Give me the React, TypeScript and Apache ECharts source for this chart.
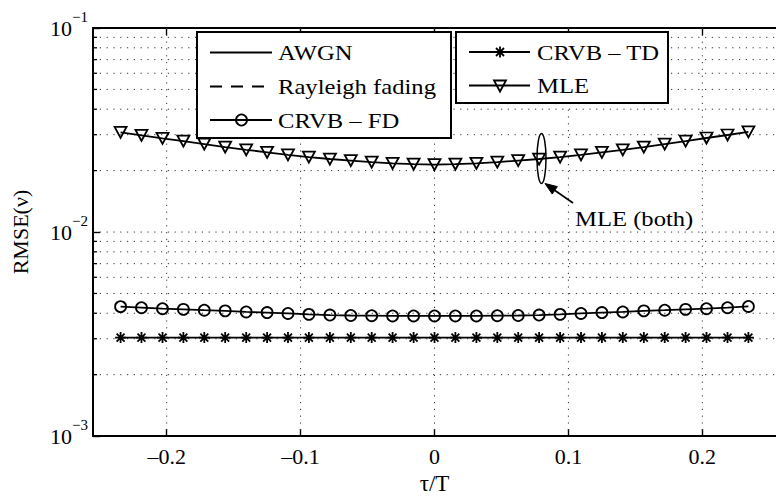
import React, { useEffect, useRef } from 'react';
import * as echarts from 'echarts';

// tau/T sample points (k/64, k = -15..15)
const tauValues = [
  -0.2344, -0.2188, -0.2031, -0.1875, -0.1719, -0.1563, -0.1406, -0.125, -0.1094, -0.0938,
  -0.0781, -0.0625, -0.0469, -0.0313, -0.0156, 0, 0.0156, 0.0313, 0.0469, 0.0625,
  0.0781, 0.0938, 0.1094, 0.125, 0.1406, 0.1563, 0.1719, 0.1875, 0.2031, 0.2188, 0.2344,
];
const mleValues = [
  0.0308, 0.0298, 0.0288, 0.0279, 0.027, 0.0261, 0.0253, 0.0246, 0.0239, 0.0233,
  0.0228, 0.0224, 0.022, 0.0217, 0.0215, 0.0214, 0.0215, 0.0217, 0.022, 0.0224,
  0.0228, 0.0233, 0.0239, 0.0246, 0.0253, 0.0261, 0.027, 0.0279, 0.0289, 0.0299, 0.031,
];
const crvbFdValues = [
  0.00431, 0.00426, 0.00421, 0.00418, 0.00414, 0.00411, 0.00406, 0.00403, 0.00399, 0.00395,
  0.00392, 0.0039, 0.00389, 0.00388, 0.00388, 0.00388, 0.00388, 0.00388, 0.00389, 0.0039,
  0.00392, 0.00395, 0.00399, 0.00403, 0.00406, 0.00411, 0.00414, 0.00418, 0.00421, 0.00426, 0.00432,
];
const crvbTdValues = [
  0.00304, 0.00304, 0.00304, 0.00304, 0.00304, 0.00304, 0.00304, 0.00304, 0.00304, 0.00304,
  0.00304, 0.00304, 0.00304, 0.00304, 0.00304, 0.00304, 0.00304, 0.00304, 0.00304, 0.00304,
  0.00304, 0.00304, 0.00304, 0.00304, 0.00304, 0.00304, 0.00304, 0.00304, 0.00304, 0.00304, 0.00304,
];
const xTickValues = [-0.2, -0.1, 0, 0.1, 0.2];
const yMajorGrid = [0.01];
const yMinorValues = [
  0.002, 0.003, 0.004, 0.005, 0.006, 0.007, 0.008, 0.009,
  0.02, 0.03, 0.04, 0.05, 0.06, 0.07, 0.08, 0.09,
];
const legendLeftLabels = ['AWGN', 'Rayleigh fading', 'CRVB \u2013 FD'];
const legendRightLabels = ['CRVB \u2013 TD', 'MLE'];
const annotationLabel = 'MLE (both)';
const xAxisTitle = '\u03c4/T';
const yAxisTitle = 'RMSE(\u03bd)';

const FONT = 'Liberation Serif, Times New Roman, Times, serif';
const STAR = 'path://M0,-5L0,5M-5,0L5,0M-3.6,-3.6L3.6,3.6M-3.6,3.6L3.6,-3.6';
const SX = 1.12;
const LW = 1.8;

function pair(xs: number[], ys: number[]) {
  return xs.map((x, i) => [x, ys[i]]);
}

function lineSeries(name: string, data: number[], symbol: string, size: any, rotate = 0) {
  return {
    name,
    type: 'line',
    data: pair(tauValues, data),
    symbol,
    symbolSize: size,
    symbolRotate: rotate,
    showAllSymbol: true,
    z: 5,
    lineStyle: { color: '#000', width: LW },
    itemStyle: { color: 'rgba(0,0,0,0)', borderColor: '#000', borderWidth: LW },
  };
}

export default function App() {
  const ref = useRef<HTMLDivElement>(null);
  useEffect(() => {
    if (!ref.current) return;
    const chart = echarts.init(ref.current, null, { renderer: 'svg' });
    const dotted = { stroke: '#333', lineWidth: 1, lineDash: [1.2, 5.6] };
    const lg = (x1: number, x2: number, y: number, dash?: number[]) => ({
      type: 'line', shape: { x1, y1: y, x2, y2: y },
      style: { stroke: '#000', lineWidth: LW, lineDash: dash },
    });
    const txt = (x: number, y: number, text: string) => ({
      type: 'text', x, y, scaleX: SX,
      style: { text, fill: '#000', fontSize: 22, fontFamily: FONT, textAlign: 'left', textVerticalAlign: 'middle' },
    });
    const option: any = {
      animation: false,
      backgroundColor: '#fff',
      textStyle: { fontFamily: FONT },
      grid: { left: 93, top: 28, right: -6, bottom: 58 },
      xAxis: [
        {
          type: 'value', position: 'bottom', min: -0.255, max: 0.255,
          axisLine: { show: true, onZero: false, lineStyle: { color: '#000', width: 2 } },
          axisTick: { show: true, inside: true, length: 7, customValues: xTickValues, lineStyle: { color: '#000', width: 1.4 } },
          axisLabel: {
            customValues: xTickValues, color: '#000', fontFamily: FONT, fontSize: 22, margin: 9,
            formatter: (v: number) => (v < 0 ? '\u2013' + String(-v) : String(v)),
          },
          splitLine: { show: false },
          name: xAxisTitle, nameLocation: 'middle', nameGap: 34,
          nameTextStyle: { color: '#000', fontFamily: FONT, fontSize: 23 },
        },
        {
          type: 'value', position: 'top', min: -0.255, max: 0.255,
          axisLine: { show: true, onZero: false, lineStyle: { color: '#000', width: 2 } },
          axisTick: { show: true, inside: true, length: 7, customValues: xTickValues, lineStyle: { color: '#000', width: 1.4 } },
          axisLabel: { show: false },
          splitLine: { show: false },
        },
      ],
      yAxis: [
        {
          type: 'log', logBase: 10, min: 0.001, max: 0.1,
          axisLine: { show: true, onZero: false, lineStyle: { color: '#000', width: 2 } },
          axisTick: { show: true, inside: true, length: 7, lineStyle: { color: '#000', width: 1.4 } },
          axisLabel: {
            color: '#000', fontFamily: FONT, margin: 5,
            formatter: (v: number) => {
              const e = Math.round(Math.log10(v));
              return `{b|10}{s|\u2212${-e}}`;
            },
            rich: {
              b: { fontSize: 22, fontFamily: FONT, color: '#000' },
              s: { fontSize: 15, fontFamily: FONT, color: '#000', padding: [0, 0, 22, 0] },
            },
          },
          splitLine: { show: false },
          name: yAxisTitle, nameLocation: 'middle', nameGap: 62, nameRotate: 90,
          nameTextStyle: { color: '#000', fontFamily: FONT, fontSize: 22 },
        },
      ],
      series: [
        {
          type: 'custom', silent: true, z: 1, xAxisIndex: 0, yAxisIndex: 0,
          data: yMinorValues.map((v) => [0, v, 1]).concat(yMajorGrid.map((v) => [0, v, 0])),
          renderItem: (params: any, api: any) => {
            const cs = params.coordSys;
            const y = api.coord([0, api.value(1)])[1];
            const children: any[] = [
              { type: 'line', shape: { x1: cs.x, y1: y, x2: cs.x + cs.width, y2: y }, style: dotted },
            ];
            if (api.value(2) === 1) {
              children.push({ type: 'line', shape: { x1: cs.x, y1: y, x2: cs.x + 4, y2: y }, style: { stroke: '#000', lineWidth: 1.3 } });
            }
            return { type: 'group', children };
          },
        },
        {
          type: 'custom', silent: true, z: 1, xAxisIndex: 0, yAxisIndex: 0,
          data: xTickValues.map((v) => [v, 0.01]),
          renderItem: (params: any, api: any) => {
            const cs = params.coordSys;
            const x = api.coord([api.value(0), 0.01])[0];
            return { type: 'line', shape: { x1: x, y1: cs.y, x2: x, y2: cs.y + cs.height }, style: dotted };
          },
        },
        lineSeries('CRVB \u2013 FD', crvbFdValues, 'circle', 11),
        lineSeries('CRVB \u2013 TD', crvbTdValues, STAR, 11),
        lineSeries('MLE', mleValues, 'triangle', [12, 11], 180),
      ],
      graphic: {
        elements: [
          // legend 1
          { type: 'rect', z: 100, shape: { x: 197, y: 32, width: 254, height: 106 }, style: { fill: '#fff', stroke: '#000', lineWidth: 2 } },
          { ...lg(210, 272, 52.5), z: 101 },
          { ...txt(278, 52.5, legendLeftLabels[0]), z: 101 },
          { ...lg(210, 272, 86.5, [12, 9]), z: 101 },
          { ...txt(278, 86.5, legendLeftLabels[1]), z: 101 },
          { ...lg(210, 272, 120), z: 101 },
          { type: 'circle', z: 102, shape: { cx: 241.5, cy: 120, r: 5.5 }, style: { fill: 'none', stroke: '#000', lineWidth: LW } },
          { ...txt(278, 120, legendLeftLabels[2]), z: 101 },
          // legend 2
          { type: 'rect', z: 100, shape: { x: 456, y: 32, width: 212, height: 71 }, style: { fill: '#fff', stroke: '#000', lineWidth: 2 } },
          { ...lg(469, 530, 52), z: 101 },
          { type: 'line', z: 102, shape: { x1: 500, y1: 46.5, x2: 500, y2: 57.5 }, style: { stroke: '#000', lineWidth: LW } },
          { type: 'line', z: 102, shape: { x1: 496, y1: 48, x2: 504, y2: 56 }, style: { stroke: '#000', lineWidth: LW } },
          { type: 'line', z: 102, shape: { x1: 496, y1: 56, x2: 504, y2: 48 }, style: { stroke: '#000', lineWidth: LW } },
          { ...txt(537, 52, legendRightLabels[0]), z: 101 },
          { ...lg(469, 530, 85.5), z: 101 },
          { type: 'polygon', z: 102, shape: { points: [[494, 80.5], [506, 80.5], [500, 91.5]] }, style: { fill: 'none', stroke: '#000', lineWidth: LW } },
          { ...txt(537, 85.5, legendRightLabels[1]), z: 101 },
          // annotation
          { type: 'ellipse', z: 50, shape: { cx: 541.5, cy: 158.5, rx: 4.5, ry: 25 }, style: { fill: 'none', stroke: '#000', lineWidth: 1.5 } },
          { type: 'line', z: 50, shape: { x1: 573, y1: 203, x2: 550, y2: 187 }, style: { stroke: '#000', lineWidth: LW } },
          { type: 'polygon', z: 50, shape: { points: [[545, 183.5], [552.2, 194], [557.4, 186.6]] }, style: { fill: '#000', stroke: '#000', lineWidth: 1 } },
          { ...txt(575, 218, annotationLabel), z: 50 },
        ],
      },
    };
    chart.setOption(option);
    return () => chart.dispose();
  }, []);
  return (
    <div
      ref={ref}
      style={{ position: 'fixed', left: 0, top: 0, width: 776, height: 500, background: '#fff' }}
    />
  );
}
